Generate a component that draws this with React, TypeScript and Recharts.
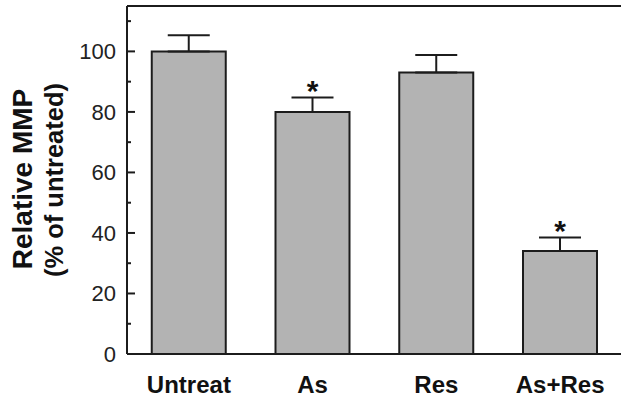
import React from 'react';
import { ComposedChart, Bar, XAxis, YAxis, ErrorBar, ReferenceLine, LabelList } from 'recharts';

const categories = ['Untreat', 'As', 'Res', 'As+Res'];
const values = [100, 80, 93, 34];
const errors = [5.3, 4.8, 5.8, 4.5];
const significance = ['', '*', '', '*'];
const yTicks = [0, 10, 20, 30, 40, 50, 60, 70, 80, 90, 100, 110];
const yLabelTicks = [0, 20, 40, 60, 80, 100];
const yTitle = ['Relative MMP', '(% of untreated)'];

const data = categories.map((c, i) => ({
  name: c,
  value: values[i],
  err: [0, errors[i]],
  sig: significance[i],
}));

const FONT = 'Liberation Sans, Arial, Helvetica, sans-serif';
const INK = '#1c1c1c';

const LeftTick = (props: any) => {
  const { x, y, payload } = props;
  const major = yLabelTicks.includes(payload.value);
  return (
    <g>
      <line x1={x} x2={x + (major ? 8 : 4)} y1={y} y2={y} stroke={INK} strokeWidth={2} />
      {major && (
        <text x={x - 11} y={y} dy="0.36em" textAnchor="end" fontSize={22} fontFamily={FONT} fill="#222">
          {payload.value}
        </text>
      )}
    </g>
  );
};

const RightTick = (props: any) => {
  const { x, y, payload } = props;
  const major = yLabelTicks.includes(payload.value);
  return <line x1={x} x2={x - (major ? 8 : 4)} y1={y} y2={y} stroke={INK} strokeWidth={2} />;
};

const XTick = (props: any) => {
  const { x, y, payload } = props;
  return (
    <text x={x} y={y + 39} textAnchor="middle" fontSize={24} fontWeight="bold" fontFamily={FONT} fill="#111">
      {payload.value}
    </text>
  );
};

const YTitle = () => (
  <g>
    <text
      x={22}
      y={179}
      transform="rotate(-90 22 179)"
      textAnchor="middle"
      dominantBaseline="central"
      fontSize={28}
      fontWeight="bold"
      fontFamily={FONT}
      fill="#111"
    >
      {yTitle[0]}
    </text>
    <text
      x={54}
      y={180}
      transform="rotate(-90 54 180)"
      textAnchor="middle"
      dominantBaseline="central"
      fontSize={25.5}
      fontWeight="bold"
      fontFamily={FONT}
      fill="#111"
    >
      {yTitle[1]}
    </text>
  </g>
);

const Star = (props: any) => {
  const { index, value } = props;
  const vb = props.viewBox || {};
  const x = props.x ?? vb.x;
  const y = props.y ?? vb.y;
  const width = props.width ?? vb.width;
  const height = props.height ?? vb.height;
  if (!value) return null;
  const pxPerUnit = height / values[index];
  const errTop = y - errors[index] * pxPerUnit;
  return (
    <text x={x + width / 2} y={errTop + 4} textAnchor="middle" fontSize={30} fontWeight="bold" fontFamily={FONT} fill="#111">
      {value}
    </text>
  );
};

export default function App() {
  return (
    <div style={{ position: 'absolute', left: 0, top: 0, width: 621, height: 401, overflow: 'hidden', background: '#fff' }}>
      <ComposedChart width={630} height={401} data={data} margin={{ top: 6, right: 0, bottom: 0, left: 0 }} barCategoryGap="20%">
        <XAxis
          dataKey="name"
          height={47}
          tickLine={false}
          tickSize={0}
          tickMargin={0}
          axisLine={{ stroke: INK, strokeWidth: 2 }}
          tick={<XTick />}
          interval={0}
        />
        <YAxis
          yAxisId="left"
          width={127}
          domain={[0, 115]}
          ticks={yTicks}
          interval={0}
          tickLine={false}
          tickSize={0}
          tickMargin={0}
          axisLine={{ stroke: INK, strokeWidth: 2 }}
          tick={<LeftTick />}
          label={{ content: () => <YTitle /> }}
        />
        <YAxis
          yAxisId="right"
          orientation="right"
          width={8}
          domain={[0, 115]}
          ticks={yTicks}
          interval={0}
          tickLine={false}
          tickSize={0}
          tickMargin={0}
          axisLine={{ stroke: INK, strokeWidth: 2 }}
          tick={<RightTick />}
        />
        <ReferenceLine yAxisId="left" y={115} stroke={INK} strokeWidth={2} />
        <Bar yAxisId="left" dataKey="value" fill="#b3b3b3" stroke={INK} strokeWidth={2} isAnimationActive={false}>
          <ErrorBar dataKey="err" width={21} stroke={INK} strokeWidth={2} direction="y" />
          <LabelList dataKey="sig" content={<Star />} />
        </Bar>
      </ComposedChart>
    </div>
  );
}
